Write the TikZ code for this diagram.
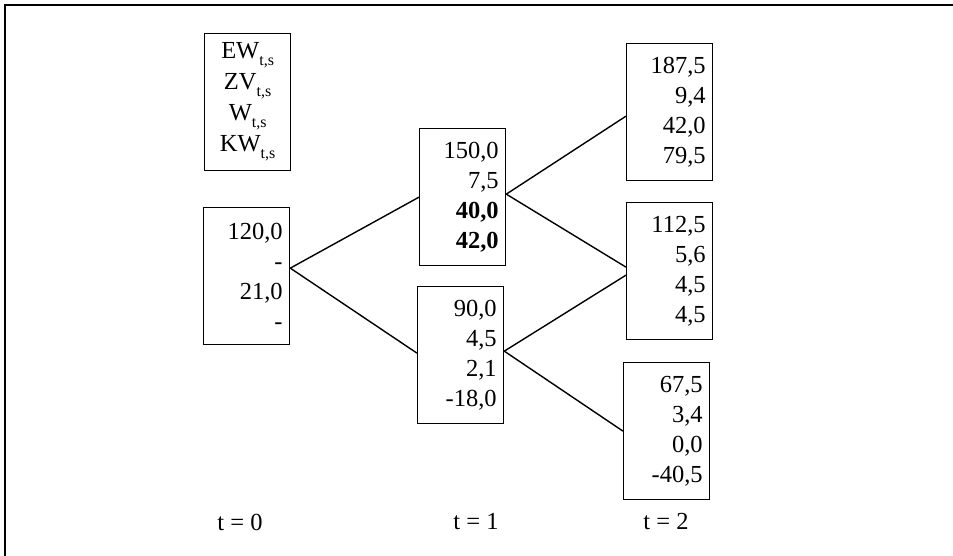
\documentclass[tikz,border=0pt]{standalone}
\usepackage{fontspec}
\setmainfont{Liberation Serif}
\newcommand\subts{\raisebox{-7pt}{\fontsize{16}{16}\selectfont t,s}}
\begin{document}
\begin{tikzpicture}[x=1pt,y=-1pt,
  every node/.style={font=\fontsize{24.5}{30}\selectfont},
  valbox/.style={draw, line width=1.3pt, minimum width=86pt, minimum height=137pt,
    text width=72pt, align=right, inner xsep=7pt, inner ysep=0pt, anchor=north west},
  lblbox/.style={valbox, align=center, font=\fontsize{24.5}{31}\selectfont},
  conn/.style={line width=1.4pt},
  frame/.style={line width=1.8pt},
  tlab/.style={inner sep=0pt}]
\useasboundingbox (0,0) rectangle (953,556);
\draw[frame] (5,556) -- (5,5) -- (953,5);

\node[lblbox] (lbl) at (204,33) {EW\subts\\ZV\subts\\W\subts\\KW\subts};
\node[valbox] (a0) at (203,207) {120,0\\-\\21,0\\-};
\node[valbox] (b1) at (419,128) {150,0\\7,5\\\textbf{40,0}\\\textbf{42,0}};
\node[valbox] (b2) at (417,286) {90,0\\4,5\\2,1\\-18,0};
\node[valbox] (c1) at (626,43) {187,5\\9,4\\42,0\\79,5};
\node[valbox] (c2) at (626,202) {112,5\\5,6\\4,5\\4,5};
\node[valbox] (c3) at (623,362) {67,5\\3,4\\0,0\\-40,5};

\draw[conn] ([yshift=8pt]a0.east) -- (b1.west);
\draw[conn] ([yshift=8pt]a0.east) -- ([yshift=2pt]b2.west);
\draw[conn] ([yshift=3pt]b1.east) -- ([yshift=-4pt]c1.west);
\draw[conn] ([yshift=3pt]b1.east) -- ([yshift=4pt]c2.west);
\draw[conn] ([yshift=4pt]b2.east) -- ([yshift=-4pt]c2.west);
\draw[conn] ([yshift=4pt]b2.east) -- (c3.west);

\node[tlab] (t0) at (240,522) {t = 0};
\node[tlab] (t1) at (476,522) {t = 1};
\node[tlab] (t2) at (666,522) {t = 2};
\end{tikzpicture}
\end{document}
